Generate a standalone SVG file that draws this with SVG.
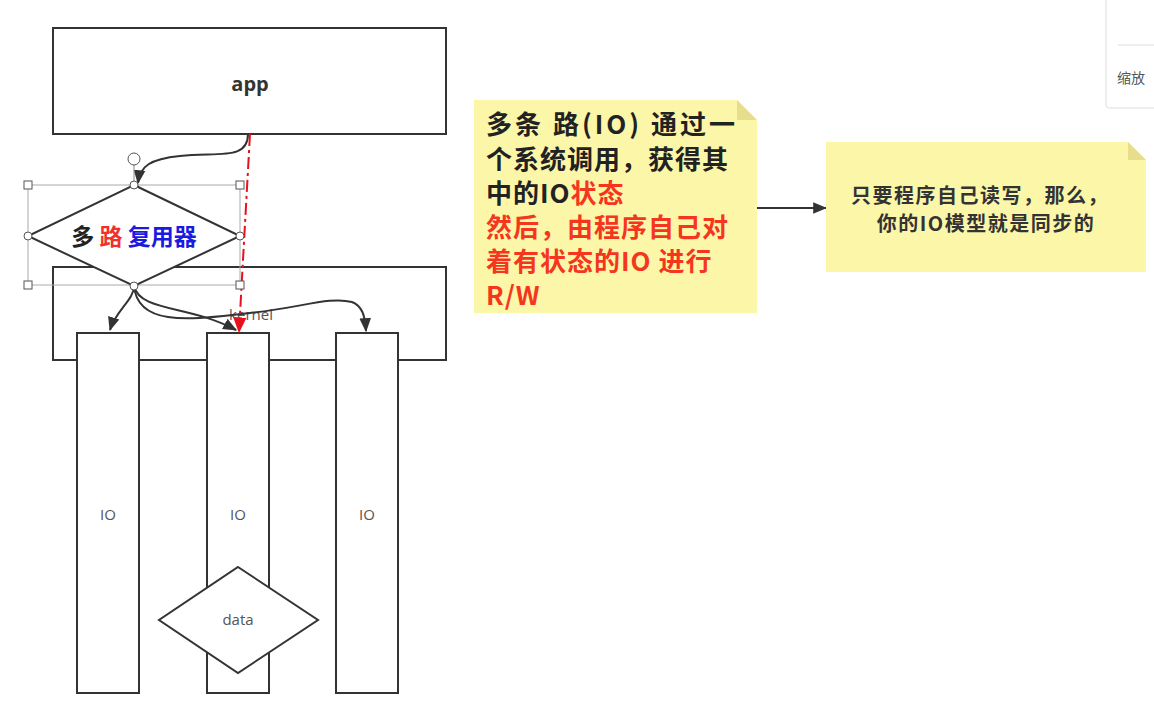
<svg xmlns="http://www.w3.org/2000/svg" width="1154" height="716" viewBox="0 0 1154 716">
<defs>
<style>
.box{fill:#fff;stroke:#333;stroke-width:2}
.lbl{font-family:"Open Sans","Liberation Sans","Noto Sans CJK SC",sans-serif;fill:#555;font-size:15px;text-anchor:middle}
.cjk{font-family:"Noto Sans CJK SC",sans-serif;font-weight:bold}
.conn{fill:none;stroke:#333;stroke-width:2}
.sel{fill:none;stroke:#aaa;stroke-width:1}
.hs{fill:#fff;stroke:#555;stroke-width:1}
.note{fill:#fbf6a8}
.fold{fill:#e6de8c}
</style>
<marker id="ahb" viewBox="0 0 12 12" refX="11" refY="6" markerWidth="14" markerHeight="14" orient="auto" markerUnits="userSpaceOnUse">
<path d="M0,1 L12,6 L0,11 z" fill="#333"/>
</marker>
<marker id="ahr" viewBox="0 0 12 12" refX="11" refY="6" markerWidth="16" markerHeight="16" orient="auto" markerUnits="userSpaceOnUse">
<path d="M0,1 L12,6 L0,11 z" fill="#e8101a"/>
</marker>
</defs>
<rect width="1154" height="716" fill="#fff"/>

<g id="app">
<rect class="box" x="53" y="28" width="393" height="106"/>
<text x="250" y="91" font-family="Open Sans, Liberation Sans, sans-serif" font-size="20" font-weight="bold" fill="#333" text-anchor="middle">app</text>
</g>

<g id="kernel">
<rect class="box" x="53" y="267" width="393" height="93"/>
<text class="lbl" x="251" y="320" font-size="14">kernel</text>
</g>

<g id="io1">
<rect class="box" x="77" y="333" width="62" height="360"/>
<text class="lbl" x="108" y="520">IO</text>
</g>
<g id="io2">
<rect class="box" x="207" y="333" width="62" height="360"/>
<text class="lbl" x="238" y="520">IO</text>
</g>
<g id="io3">
<rect class="box" x="336" y="333" width="62" height="360"/>
<text class="lbl" x="367" y="520">IO</text>
</g>

<g id="data">
<polygon class="box" points="238,567 318,620 238,673 159,620"/>
<text class="lbl" x="238" y="625">data</text>
</g>

<g id="connectors">
<path class="conn" d="M248,134 C248,160 220,152 180,156 C150,159 140,166 138,183" marker-end="url(#ahb)"/>
<path class="conn" d="M134,286 C134,300 116,310 110,330" marker-end="url(#ahb)"/>
<path class="conn" d="M134,286 C140,312 190,305 236,330" marker-end="url(#ahb)"/>
<path class="conn" d="M134,286 C138,330 200,318 250,313 C300,308 330,296 352,302 C362,306 365,315 366,331" marker-end="url(#ahb)"/>
<path d="M250,134 L239,332" fill="none" stroke="#e8101a" stroke-width="2" stroke-dasharray="12,4,3,4" marker-end="url(#ahr)"/>
<path class="conn" d="M757,208 L826,208" marker-end="url(#ahb)"/>
</g>

<g id="multiplexer">
<rect class="sel" x="28" y="185" width="212" height="100"/>
<polygon fill="#fff" stroke="#333" stroke-width="2" points="134,185 240,236 134,286 28,236"/>
<text x="134" y="245" class="cjk" font-size="23" text-anchor="middle"><tspan fill="#222">多 </tspan><tspan fill="#f0302a">路 </tspan><tspan fill="#1a1ae0">复用器</tspan></text>
<line x1="134" y1="165" x2="134" y2="185" stroke="#888" stroke-width="1"/>
<circle class="hs" cx="134" cy="159" r="6"/>
<circle class="hs" cx="134" cy="185" r="4"/>
<circle class="hs" cx="240" cy="236" r="4"/>
<circle class="hs" cx="134" cy="286" r="4"/>
<circle class="hs" cx="28" cy="236" r="4"/>
<rect class="hs" x="24" y="181" width="8" height="8"/>
<rect class="hs" x="236" y="181" width="8" height="8"/>
<rect class="hs" x="24" y="281" width="8" height="8"/>
<rect class="hs" x="236" y="281" width="8" height="8"/>
</g>

<g id="note1">
<polygon class="note" points="474,100 737,100 757,120 757,313 474,313"/>
<polygon class="fold" points="737,100 757,120 737,120"/>
<g class="cjk" font-size="26" letter-spacing="1">
<text x="486" y="134" fill="#222" letter-spacing="3">多条 路(IO) 通过一</text>
<text x="486" y="169" fill="#222">个系统调用，获得其</text>
<text x="486" y="203" fill="#222">中的IO<tspan fill="#f5361f">状态</tspan></text>
<text x="486" y="237" fill="#f5361f">然后，由程序自己对</text>
<text x="486" y="271" fill="#f5361f">着有状态的IO 进行</text>
<text x="486" y="305" fill="#f5361f">R/W</text>
</g>
</g>

<g id="note2">
<polygon class="note" points="826,142 1128,142 1146,160 1146,272 826,272"/>
<polygon class="fold" points="1128,142 1146,160 1128,160"/>
<g class="cjk" font-size="20" fill="#333" text-anchor="middle" letter-spacing="1.5">
<text x="980" y="203">只要程序自己读写，那么，</text>
<text x="986" y="231">你的IO模型就是同步的</text>
</g>
</g>

<g id="zoom-panel">
<rect x="1106" y="-4" width="54" height="112" rx="3" fill="#fff" stroke="#ddd" stroke-width="1"/>
<line x1="1118" y1="45" x2="1154" y2="45" stroke="#ddd" stroke-width="1"/>
<text x="1117" y="83" font-family="Noto Sans CJK SC, sans-serif" font-size="14" fill="#555">缩放</text>
</g>
</svg>
